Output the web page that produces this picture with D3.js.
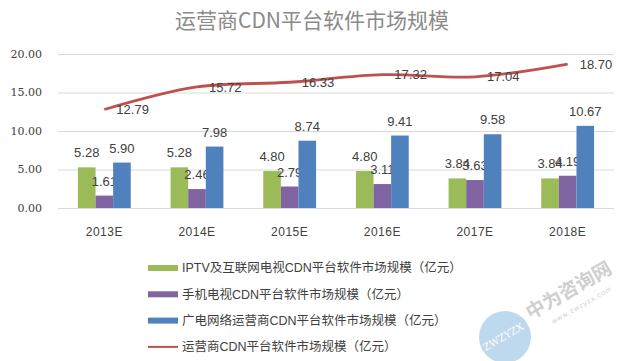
<!DOCTYPE html>
<html>
<head>
<meta charset="utf-8">
<script src="https://cdn.jsdelivr.net/npm/d3@7/dist/d3.min.js"></script>
<style>
  body { margin: 0; background: #fff; }
  svg text { font-family: "Liberation Sans", "Noto Sans CJK SC", sans-serif; fill: #404040; }
</style>
</head>
<body>
<svg id="chart" width="620" height="361"></svg>
<script>
// data
var years = ["2013E", "2014E", "2015E", "2016E", "2017E", "2018E"];
var iptv = [5.28, 5.28, 4.80, 4.80, 3.84, 3.84];
var mobile = [1.61, 2.46, 2.79, 3.11, 3.63, 4.19];
var cable = [5.90, 7.98, 8.74, 9.41, 9.58, 10.67];
var total = [12.79, 15.72, 16.33, 17.32, 17.04, 18.70];
var yTicks = [0, 5, 10, 15, 20];
var seriesNames = [
  "IPTV及互联网电视CDN平台软件市场规模（亿元）",
  "手机电视CDN平台软件市场规模（亿元）",
  "广电网络运营商CDN平台软件市场规模（亿元）",
  "运营商CDN平台软件市场规模（亿元）"
];
var title = "运营商CDN平台软件市场规模";

var colors = ["#9bbb59", "#8064a2", "#4f81bd", "#c0504d"];
var bars = [iptv, mobile, cable];

var svg = d3.select("#chart");
var plotLeft = 58, plotRight = 614, plotTop = 54, plotBottom = 208;

var x = d3.scaleBand()
  .domain(years)
  .range([plotLeft, plotRight])
  .paddingInner(0.43)
  .paddingOuter(0.215);

var xs = d3.scaleBand()
  .domain([0, 1, 2])
  .range([0, x.bandwidth()]);

var y = d3.scaleLinear()
  .domain([0, 20])
  .range([plotBottom, plotTop]);

// title
svg.append("text")
  .attr("x", 312)
  .attr("y", 28)
  .attr("text-anchor", "middle")
  .style("font-size", "21px")
  .style("font-family", "'Noto Sans CJK SC', sans-serif")
  .style("fill", "#8a8a8a")
  .text(title);

// gridlines
svg.append("g")
  .selectAll("line")
  .data(yTicks)
  .enter().append("line")
  .attr("x1", plotLeft)
  .attr("x2", plotRight)
  .attr("y1", d => y(d) + 0.5)
  .attr("y2", d => y(d) + 0.5)
  .attr("stroke", "#d9d9d9")
  .attr("stroke-width", 1);

// y axis labels
svg.append("g")
  .selectAll("text")
  .data(yTicks)
  .enter().append("text")
  .attr("x", 42)
  .attr("y", d => y(d))
  .attr("dy", "0.35em")
  .attr("text-anchor", "end")
  .style("font-family", "'DejaVu Serif', serif")
  .style("font-size", "11px")
  .text(d => d3.format(".2f")(d));

// x axis labels
svg.append("g")
  .selectAll("text")
  .data(years)
  .enter().append("text")
  .attr("x", d => x(d) + x.bandwidth() / 2)
  .attr("y", 232)
  .attr("dy", "0.35em")
  .attr("text-anchor", "middle")
  .style("font-size", "12px")
  .style("letter-spacing", "0.5px")
  .text(d => d);

// bars
bars.forEach(function (vals, s) {
  var g = svg.append("g");
  g.selectAll("rect")
    .data(vals)
    .enter().append("rect")
    .attr("x", (d, i) => x(years[i]) + xs(s))
    .attr("width", xs.bandwidth())
    .attr("y", d => y(d))
    .attr("height", d => y(0) - y(d))
    .attr("fill", colors[s]);
  g.selectAll("text")
    .data(vals)
    .enter().append("text")
    .attr("x", (d, i) => x(years[i]) + xs(s) + xs.bandwidth() / 2)
    .attr("y", d => y(d) - 10)
    .attr("text-anchor", "middle")
    .style("font-size", "13px")
    .text(d => d3.format(".2f")(d));
});

// total line
var line = d3.line()
  .x((d, i) => x(years[i]) + x.bandwidth() / 2)
  .y(d => y(d))
  .curve(d3.curveCatmullRom.alpha(0.5));

svg.append("path")
  .datum(total)
  .attr("d", line)
  .attr("fill", "none")
  .attr("stroke", colors[3])
  .attr("stroke-width", 2.8);

svg.append("g")
  .selectAll("text")
  .data(total)
  .enter().append("text")
  .attr("x", (d, i) => x(years[i]) + x.bandwidth() / 2 + 12)
  .attr("y", d => y(d))
  .attr("dy", "0.35em")
  .style("font-size", "13px")
  .text(d => d3.format(".2f")(d));

// legend
var legend = svg.append("g")
  .selectAll("g")
  .data(seriesNames)
  .enter().append("g")
  .attr("transform", (d, i) => "translate(148," + (268 + i * 26.3) + ")");

legend.append("rect")
  .attr("x", 0)
  .attr("y", (d, i) => i < 3 ? -3 : -1)
  .attr("width", 30)
  .attr("height", (d, i) => i < 3 ? 6 : 2)
  .attr("fill", (d, i) => colors[i]);

legend.append("text")
  .attr("x", 34)
  .attr("y", 0)
  .attr("dy", "0.35em")
  .style("font-size", "12.5px")
  .text(d => d);

// watermark
var wm = svg.append("g").style("opacity", 0.5);
wm.append("circle")
  .attr("cx", 505)
  .attr("cy", 337)
  .attr("r", 26)
  .attr("fill", "#7fb2dc");
wm.append("text")
  .attr("transform", "translate(505,340) rotate(-30)")
  .attr("text-anchor", "middle")
  .style("font-size", "10px")
  .style("font-family", "'DejaVu Serif', serif")
  .style("fill", "#fff")
  .text("ZWZYZX");
wm.append("text")
  .attr("transform", "translate(572,296) rotate(-30)")
  .attr("text-anchor", "middle")
  .style("font-size", "19px")
  .style("font-weight", "bold")
  .style("font-family", "'Noto Sans CJK SC', sans-serif")
  .style("fill", "#a0a0a0")
  .text("中为咨询网");
wm.append("text")
  .attr("transform", "translate(583,307) rotate(-30)")
  .attr("text-anchor", "middle")
  .style("font-size", "7px")
  .style("fill", "#a0a0a0")
  .style("letter-spacing", "1px")
  .text("www.zwzyzx.com");
</script>
</body>
</html>
